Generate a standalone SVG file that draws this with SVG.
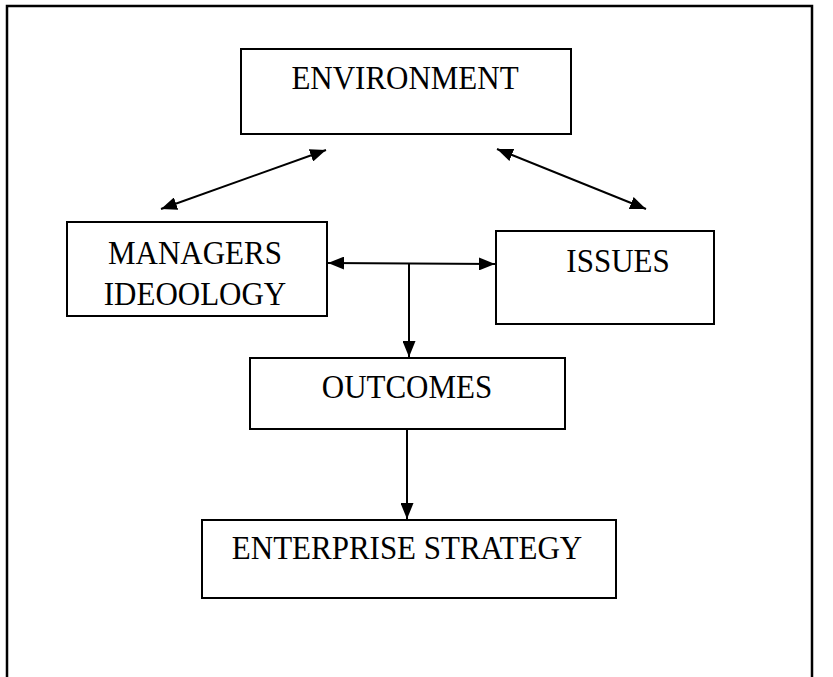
<svg xmlns="http://www.w3.org/2000/svg" width="833" height="677" viewBox="0 0 833 677">
<defs>
<marker id="ah" viewBox="0 0 16 13" refX="16" refY="6.5" markerWidth="16" markerHeight="13" markerUnits="userSpaceOnUse" orient="auto-start-reverse">
<path d="M0,0 L16,6.5 L0,13 z" fill="#000"/>
</marker>
<style>
.box{fill:#fff;stroke:#000;stroke-width:2}
.t{font-family:"Liberation Serif","Times New Roman",serif;font-size:31px;fill:#000;text-anchor:middle}
.c{fill:none;stroke:#000;stroke-width:2}
</style>
</defs>
<rect width="833" height="677" fill="#fff"/>
<path d="M7,700 L7,6 L812,6 L812,700" fill="none" stroke="#000" stroke-width="2.5"/>
<g id="environment">
<rect class="box" x="241" y="49" width="330" height="85"/>
<text class="t" transform="translate(405,89) scale(1,1.08)">ENVIRONMENT</text>
</g>
<g id="managers">
<rect class="box" x="67" y="222" width="260" height="94"/>
<text class="t" transform="translate(195,264) scale(1,1.08)">MANAGERS</text>
<text class="t" transform="translate(195,305) scale(1,1.08)">IDEOOLOGY</text>
</g>
<g id="issues">
<rect class="box" x="496" y="231" width="218" height="93"/>
<text class="t" transform="translate(618,272) scale(1,1.08)">ISSUES</text>
</g>
<g id="outcomes">
<rect class="box" x="250" y="358" width="315" height="71"/>
<text class="t" transform="translate(407,398) scale(1,1.08)">OUTCOMES</text>
</g>
<g id="strategy">
<rect class="box" x="202" y="520" width="414" height="78"/>
<text class="t" transform="translate(407,559) scale(1,1.08)">ENTERPRISE STRATEGY</text>
</g>
<g id="connectors">
<line class="c" x1="161" y1="209" x2="326" y2="150" marker-start="url(#ah)" marker-end="url(#ah)"/>
<line class="c" x1="497" y1="149" x2="646" y2="209" marker-start="url(#ah)" marker-end="url(#ah)"/>
<line class="c" x1="328" y1="263" x2="495" y2="264" marker-start="url(#ah)" marker-end="url(#ah)"/>
<line class="c" x1="409" y1="263" x2="409" y2="357" marker-end="url(#ah)"/>
<line class="c" x1="407" y1="429" x2="407" y2="519" marker-end="url(#ah)"/>
</g>
</svg>
